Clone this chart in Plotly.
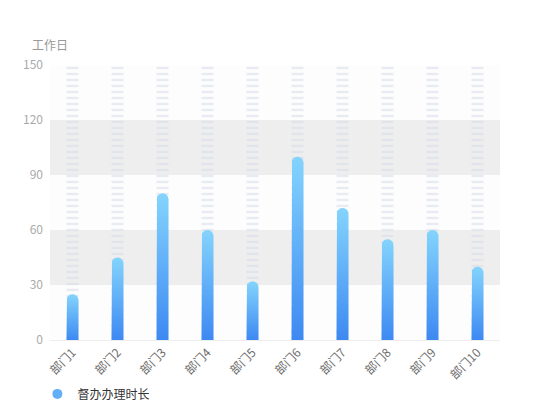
import numpy as np
import plotly.graph_objects as go

categories = ['部门1', '部门2', '部门3', '部门4', '部门5',
              '部门6', '部门7', '部门8', '部门9', '部门10']
values = [25, 45, 80, 60, 32, 100, 72, 55, 60, 40]
background = [150] * len(categories)
y_ticks = [0, 30, 60, 90, 120, 150]

# pixel geometry of the plot area (page has an 8px body margin)
W, H = 550, 420
L, R, T, B = 42, 58, 57, 88
plot_w = W - L - R
plot_h = H - T - B
y_max = y_ticks[-1]
px_x = len(categories) / plot_w
px_y = y_max / plot_h

bar_px = 12
hw = bar_px / 2 * px_x
ry = bar_px / 2 * px_y

fig = go.Figure()

# striped background columns
fig.add_trace(go.Bar(
    x=list(range(len(categories))), y=background,
    width=bar_px * px_x,
    marker=dict(
        color='rgba(0,0,0,0)',
        line=dict(width=0),
        pattern=dict(shape='-', fgcolor='rgba(214,217,234,0.5)',
                     bgcolor='rgba(0,0,0,0)', size=6, solidity=0.4,
                     fillmode='replace'),
    ),
    showlegend=False, hoverinfo='skip',
))

# gradient bars with rounded tops
t = np.linspace(np.pi, 0, 16)
for i, v in enumerate(values):
    xs = [i - hw] + list(i + hw * np.cos(t)) + [i + hw, i - hw]
    ys = [0] + list(v - ry + ry * np.sin(t)) + [0, 0]
    fig.add_trace(go.Scatter(
        x=xs, y=ys, mode='lines', fill='toself',
        line=dict(width=0, color='rgba(0,0,0,0)'),
        fillgradient=dict(type='vertical',
                          colorscale=[[0, '#3d89f2'], [1, '#84d4fd']]),
        showlegend=False, hoverinfo='skip',
    ))

# legend entry
fig.add_trace(go.Scatter(
    x=[None], y=[None], mode='markers', name='督办办理时长',
    marker=dict(size=10, color='#62aef7'),
))

# alternating split areas
shapes = []
for k in range(len(y_ticks) - 1):
    shapes.append(dict(
        type='rect', xref='paper', yref='y', layer='below',
        x0=0, x1=1, y0=y_ticks[k], y1=y_ticks[k + 1],
        fillcolor='#eeeeee' if k % 2 else '#fdfdfd', line=dict(width=0),
    ))

fig.update_layout(
    width=W, height=H,
    margin=dict(l=L, r=R, t=T, b=B),
    paper_bgcolor='white', plot_bgcolor='white',
    font=dict(family='Noto Sans CJK SC', size=12, color='#666666'),
    shapes=shapes,
    xaxis=dict(
        range=[-0.5, len(categories) - 0.5],
        tickmode='array', tickvals=list(range(len(categories))),
        ticktext=categories, tickangle=-45,
        showgrid=False, zeroline=False,
        showline=True, linecolor='#eeeeee', linewidth=1,
        tickfont=dict(color='#6e6e6e', size=12),
        fixedrange=True,
    ),
    yaxis=dict(
        range=[0, y_max], tickvals=y_ticks,
        showgrid=False, zeroline=False, showline=False,
        tickfont=dict(color='#aaaaaa', size=12),
        ticklabelstandoff=6,
        fixedrange=True,
    ),
    legend=dict(orientation='h', x=-0.028, xanchor='left',
                y=-0.196, yanchor='middle',
                font=dict(color='#333333', size=12),
                itemwidth=30),
    annotations=[dict(
        text='工作日', xref='paper', yref='paper', x=-0.0, y=1.076,
        xanchor='center', yanchor='middle', showarrow=False,
        font=dict(color='#999999', size=12),
    )],
)

fig.write_html('out.html')
